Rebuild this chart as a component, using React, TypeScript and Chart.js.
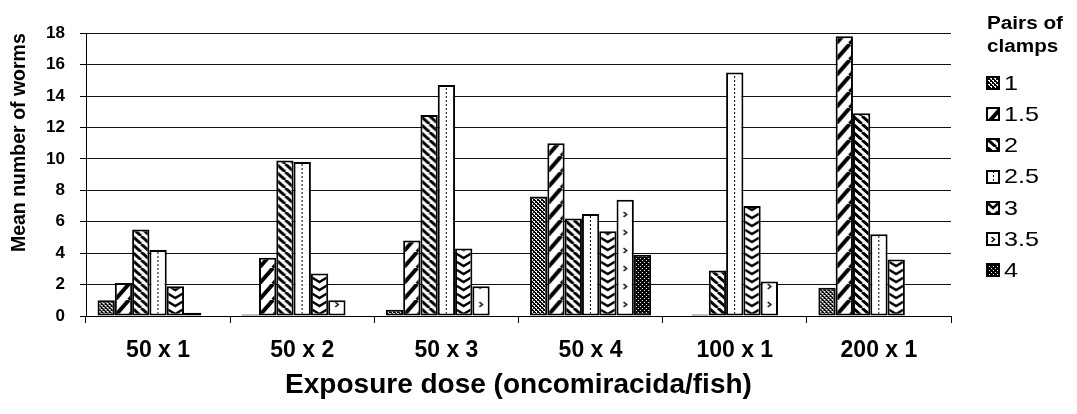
import React, { useEffect, useRef } from "react";
import { Chart, registerables } from "chart.js";

Chart.register(...registerables);

// ---- data ----
const doseLabels = ["50 x 1", "50 x 2", "50 x 3", "50 x 4", "100 x 1", "200 x 1"];
const clampPairs = ["1", "1.5", "2", "2.5", "3", "3.5", "4"];
const clamps1 = [1.0, 0.1, 0.4, 7.6, null, 1.8];
const clamps15 = [2.1, 3.7, 4.8, 11.0, 0.1, 17.8];
const clamps2 = [5.5, 9.9, 12.8, 6.2, 2.9, 12.9];
const clamps25 = [4.2, 9.8, 14.7, 6.5, 15.5, 5.2];
const clamps3 = [1.9, 2.7, 4.3, 5.4, 7.0, 3.6];
const clamps35 = [0.2, 1.0, 1.9, 7.4, 2.2, null];
const clamps4 = [null, null, null, 3.9, null, null];
const seriesValues = [clamps1, clamps15, clamps2, clamps25, clamps3, clamps35, clamps4];
const patternKinds = ["cross", "fwd", "back", "dotline", "chevron", "marks", "dark"];
const yMin = 0;
const yMax = 18;
const yStep = 2;
const legendTitle = ["Pairs of", "clamps"];
const yTitle = "Mean number of worms";
const xTitle = "Exposure dose (oncomiracida/fish)";

// ---- style ----
const FONT = "'Liberation Sans', Arial, sans-serif";
const CAT_PCT = 0.84;
const CANVAS_W = 1061;
const CANVAS_H = 398;

const tileCache: Record<string, HTMLCanvasElement> = {};

function makeTile(kind: string, bw: number): HTMLCanvasElement {
  const key = kind + "_" + Math.round(bw);
  if (tileCache[key]) return tileCache[key];
  const c = document.createElement("canvas");
  let w = 4;
  let h = 4;
  const W = Math.max(6, Math.round(bw));
  if (kind === "fwd") { w = 14; h = 16; }
  if (kind === "back") { w = 9; h = 8; }
  if (kind === "dotline") { w = W; h = 4; }
  if (kind === "chevron") { w = W; h = 8; }
  if (kind === "marks") { w = W; h = 18; }
  c.width = w;
  c.height = h;
  const g = c.getContext("2d")!;
  g.fillStyle = "#fff";
  g.fillRect(0, 0, w, h);
  g.fillStyle = "#000";
  g.strokeStyle = "#000";
  if (kind === "cross") {
    const px = [[0, 0], [1, 1], [2, 2], [3, 3], [3, 0], [2, 1], [1, 2], [0, 3], [1, 0], [3, 2]];
    px.forEach(([x, y]) => g.fillRect(x, y, 1, 1));
  } else if (kind === "dark") {
    g.fillRect(0, 0, w, h);
    g.fillStyle = "#fff";
    g.fillRect(0, 0, 1, 1);
    g.fillRect(2, 2, 1, 1);
  } else if (kind === "fwd") {
    g.lineWidth = 4;
    [-w, 0, w].forEach((x) => {
      g.beginPath();
      g.moveTo(x, h);
      g.lineTo(x + w, 0);
      g.stroke();
    });
  } else if (kind === "back") {
    g.lineWidth = 3;
    [-w, 0, w].forEach((x) => {
      g.beginPath();
      g.moveTo(x, 0);
      g.lineTo(x + w, h);
      g.stroke();
    });
  } else if (kind === "dotline") {
    g.fillRect(Math.floor(w / 2), 0, 1, 2);
  } else if (kind === "chevron") {
    g.lineWidth = 2.5;
    g.beginPath();
    g.moveTo(1, 1.5);
    g.lineTo(w / 2, 6);
    g.lineTo(w - 1, 1.5);
    g.stroke();
  } else if (kind === "marks") {
    g.lineWidth = 1.5;
    g.beginPath();
    g.moveTo(w / 2 - 1.5, 4);
    g.lineTo(w / 2 + 1.5, 6.5);
    g.lineTo(w / 2 - 1.5, 9);
    g.stroke();
  }
  tileCache[key] = c;
  return c;
}

function patternAt(ctx: CanvasRenderingContext2D, kind: string, left: number, top: number, bw: number) {
  const p = ctx.createPattern(makeTile(kind, bw), "repeat")!;
  try {
    p.setTransform(new DOMMatrix().translate(left, top));
  } catch (e) {
    /* ignore */
  }
  return p;
}

function stretchedText(ctx: CanvasRenderingContext2D, text: string, x: number, y: number, sx: number) {
  ctx.save();
  ctx.translate(x, y);
  ctx.scale(sx, 1);
  ctx.fillText(text, 0, 0);
  ctx.restore();
}

const legendPlugin = {
  id: "clampLegend",
  afterDraw(chart: any) {
    const ctx: CanvasRenderingContext2D = chart.ctx;
    const LX = 979;
    ctx.save();
    ctx.fillStyle = "#000";
    ctx.textAlign = "left";
    ctx.textBaseline = "middle";
    ctx.font = `bold 18px ${FONT}`;
    legendTitle.forEach((t, i) => stretchedText(ctx, t, LX, 16 + i * 23, 1.15));
    chart.data.datasets.forEach((ds: any, i: number) => {
      const cy = 75 + i * 31.2;
      const bx = LX;
      const by = Math.round(cy - 6);
      ctx.fillStyle = patternAt(ctx, patternKinds[i], bx, by, 12);
      ctx.fillRect(bx, by, 12, 12);
      ctx.strokeStyle = "#000";
      ctx.lineWidth = 2;
      ctx.strokeRect(bx, by, 12, 12);
      ctx.fillStyle = "#000";
      ctx.font = `21px ${FONT}`;
      stretchedText(ctx, ds.label, LX + 17, cy + 1, 1.2);
    });
    ctx.restore();
  },
};

export default function App() {
  const ref = useRef<HTMLCanvasElement | null>(null);

  useEffect(() => {
    if (!ref.current) return;
    const datasets = clampPairs.map((label, di) => ({
      label,
      data: seriesValues[di],
      borderColor: "#000",
      borderWidth: 2,
      borderSkipped: false as const,
      backgroundColor: (c: any) => {
        const chart = c.chart;
        const xs = chart.scales && chart.scales.x;
        if (!xs || !chart.chartArea || c.dataIndex === undefined || !xs.width) return "#fff";
        const cw = xs.width / doseLabels.length;
        const gw = cw * CAT_PCT;
        const bw = gw / clampPairs.length;
        const left = xs.getPixelForValue(c.dataIndex) - gw / 2 + c.datasetIndex * bw;
        return patternAt(chart.ctx, patternKinds[c.datasetIndex], left, chart.chartArea.bottom, bw);
      },
      categoryPercentage: CAT_PCT,
      barPercentage: 1,
    }));

    const chart = new Chart(ref.current, {
      type: "bar",
      data: { labels: doseLabels, datasets },
      options: {
        animation: false,
        responsive: true,
        maintainAspectRatio: false,
        layout: { padding: { top: 11, right: 118, left: 0, bottom: 0 } },
        plugins: {
          legend: { display: false },
          tooltip: { enabled: false },
          title: { display: false },
        },
        scales: {
          x: {
            type: "category",
            afterFit: (s: any) => {
              s.height = 90;
            },
            grid: {
              drawOnChartArea: false,
              drawTicks: true,
              tickLength: 7,
              color: "#000",
              offset: true,
            },
            border: { display: true, color: "#000", width: 1 },
            ticks: {
              color: "#000",
              font: { family: FONT, size: 23, weight: "bold" },
              padding: 14,
              maxRotation: 0,
              autoSkip: false,
            },
            title: {
              display: true,
              text: xTitle,
              color: "#000",
              font: { family: FONT, size: 28, weight: "bold" },
              padding: { top: 0, bottom: 4 },
            },
          },
          y: {
            min: yMin,
            max: yMax,
            afterFit: (s: any) => {
              s.width = 78;
            },
            ticks: {
              stepSize: yStep,
              color: "#000",
              font: { family: FONT, size: 17, weight: "bold" },
              padding: 15,
            },
            grid: {
              color: "#111",
              lineWidth: 1,
              drawTicks: true,
              tickLength: 6,
              tickColor: "#000",
            },
            border: { display: true, color: "#000", width: 1 },
            title: {
              display: true,
              text: yTitle,
              align: "end",
              color: "#000",
              font: { family: FONT, size: 19.5, weight: "bold" },
              padding: { top: 0, bottom: 0 },
            },
          },
        },
      },
      plugins: [legendPlugin],
    } as any);
    return () => chart.destroy();
  }, []);

  return (
    <div style={{ width: CANVAS_W, height: CANVAS_H, position: "relative" }}>
      <canvas ref={ref} />
    </div>
  );
}
